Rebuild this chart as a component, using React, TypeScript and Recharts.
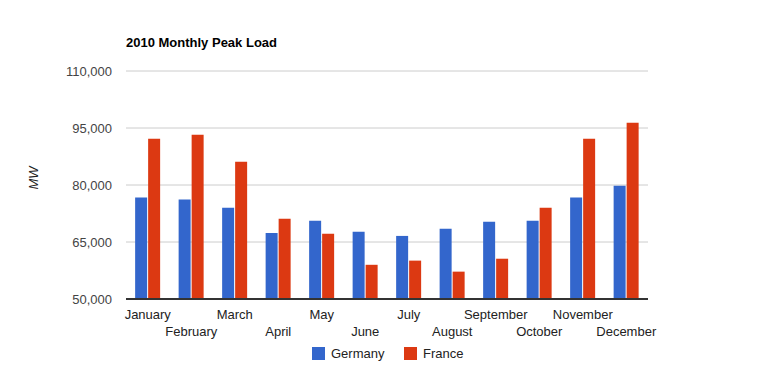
import { Bar, BarChart, CartesianGrid, XAxis, YAxis } from 'recharts'

const months = [
  'January', 'February', 'March', 'April', 'May', 'June',
  'July', 'August', 'September', 'October', 'November', 'December',
]
const germany = [76700, 76200, 74000, 67400, 70600, 67700, 66600, 68500, 70300, 70600, 76700, 79800]
const france = [92200, 93200, 86100, 71100, 67200, 59000, 60100, 57200, 60600, 74000, 92200, 96400]
const yTicks = [50000, 65000, 80000, 95000, 110000]

const data = months.map((name, i) => ({ name, Germany: germany[i], France: france[i] }))

const font = 'Arial, "Liberation Sans", sans-serif'

function MonthTick(props: any) {
  const { x, y, payload, index } = props
  const row = index % 2 === 0 ? 0 : 1
  return (
    <text
      x={x}
      y={y + 12 + row * 17}
      textAnchor="middle"
      fill="#222222"
      fontSize={13}
      fontFamily={font}
    >
      {payload.value}
    </text>
  )
}

function LegendBox() {
  const items = [
    { name: 'Germany', color: '#3366cc', left: 312 },
    { name: 'France', color: '#dc3912', left: 404 },
  ]
  return (
    <div style={{ position: 'absolute', left: 0, top: 346, width: 773, height: 20 }}>
      {items.map((it) => (
        <div
          key={it.name}
          style={{ position: 'absolute', left: it.left, top: 0, display: 'flex', alignItems: 'center' }}
        >
          <span style={{ width: 13, height: 13, background: it.color, display: 'inline-block' }} />
          <span style={{ marginLeft: 6, fontSize: 13, color: '#222222', fontFamily: font }}>{it.name}</span>
        </div>
      ))}
    </div>
  )
}

export default function App() {
  return (
    <div style={{ position: 'absolute', left: 0, top: 0, width: 773, height: 371, background: '#fff' }}>
      <div
        style={{
          position: 'absolute', left: 126, top: 35, fontFamily: font,
          fontWeight: 'bold', fontSize: 13, color: '#000',
        }}
      >
        2010 Monthly Peak Load
      </div>
      <div
        style={{
          position: 'absolute', left: 33, top: 178, fontFamily: font, fontStyle: 'italic',
          fontSize: 13, color: '#222222', transform: 'translate(-50%, -50%) rotate(-90deg)',
        }}
      >
        MW
      </div>
      <BarChart
        width={773}
        height={371}
        data={data}
        margin={{ top: 71, right: 125, bottom: 0, left: 0 }}
        barCategoryGap="21%"
        barGap={1}
      >
        <CartesianGrid vertical={false} stroke="#cccccc" />
        <XAxis
          dataKey="name"
          interval={0}
          tickLine={false}
          axisLine={{ stroke: '#333333', strokeWidth: 2 }}
          tick={<MonthTick />}
          height={72}
        />
        <YAxis
          width={126}
          domain={[50000, 110000]}
          ticks={yTicks}
          tickLine={false}
          axisLine={false}
          tickMargin={8}
          tick={{ fill: '#444444', fontSize: 13, fontFamily: font }}
          tickFormatter={(v) => v.toLocaleString('en-US')}
        />
        <Bar dataKey="Germany" fill="#3366cc" isAnimationActive={false} />
        <Bar dataKey="France" fill="#dc3912" isAnimationActive={false} />
      </BarChart>
      <LegendBox />
    </div>
  )
}
